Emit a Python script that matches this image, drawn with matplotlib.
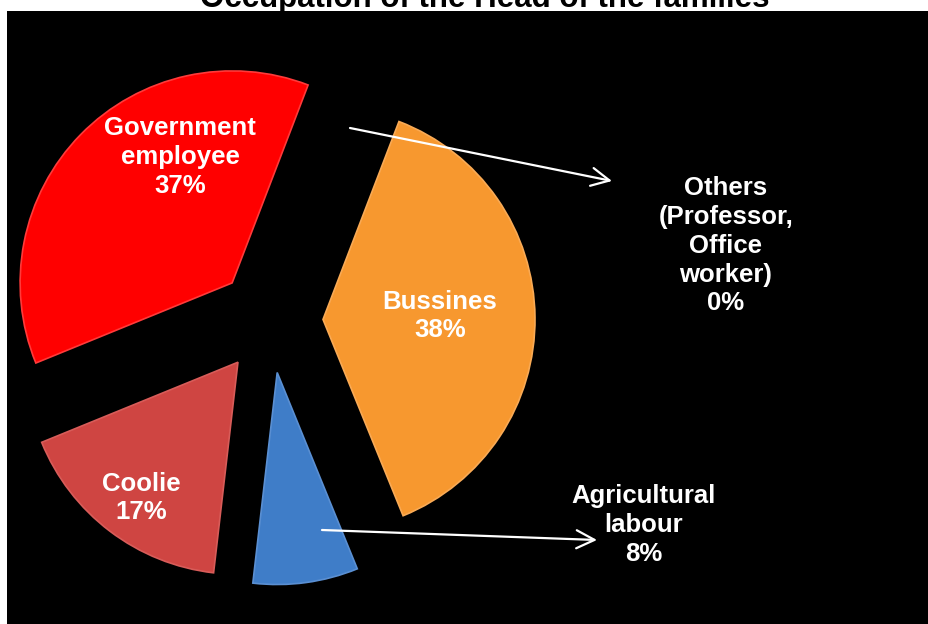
import matplotlib.pyplot as plt
from matplotlib.patches import Rectangle

plt.rcParams['font.family'] = ['Liberation Sans', 'DejaVu Sans']

# Occupation shares (percent), in pie order starting at the top and going clockwise
categories = ['Bussines', 'Agricultural\nlabour', 'Coolie', 'Government\nemployee',
              'Others\n(Professor,\nOffice\nworker)']
shares = [38, 8, 17, 37, 0]
colors = ['#F7982F', '#3F7DC8', '#CF4542', '#FF0000', '#9BBB59']
edges = ['#F9AA55', '#5A8FD2', '#D85C59', '#FF3A3A', '#9BBB59']

W, H = 929, 624
fig = plt.figure(figsize=(W / 100, H / 100), dpi=100)
ax = fig.add_axes([0, 0, 1, 1])

# black plot panel
ax.add_patch(Rectangle((7, 0), W - 7, H - 11, facecolor='black', edgecolor='none', zorder=0))

# explode is in data units here (pixels), radius too
wedges, _ = ax.pie(shares, colors=colors, startangle=69, counterclock=False,
                   center=(270, 304), radius=212, explode=[53] * len(shares),
                   wedgeprops=dict(linewidth=1.2), frame=True)
for w, ec, s in zip(wedges, edges, shares):
    w.set_edgecolor(ec)
    w.set_zorder(2)
    if s == 0:
        w.set_visible(False)
ax.set_xlim(0, W)
ax.set_ylim(0, H)
ax.set_aspect('equal')
ax.axis('off')

lbl = dict(color='white', fontsize=18.5, fontweight='bold', ha='center', va='center',
           linespacing=1.25, zorder=4)
texts = [f'{c}\n{s}%' for c, s in zip(categories, shares)]
ax.text(440, 308, texts[0], **lbl)
ax.text(644, 99, texts[1], **lbl)
ax.text(141, 126, texts[2], **lbl)
ax.text(180, 467, texts[3], **lbl)
ax.text(726, 378, texts[4], **lbl)

arrow = dict(arrowstyle='->,head_length=1.0,head_width=0.5', color='white', lw=1.6,
             mutation_scale=13, shrinkA=0, shrinkB=0)
ax.annotate('', xy=(612, 443), xytext=(350, 496), arrowprops=arrow, zorder=5)
ax.annotate('', xy=(597, 84), xytext=(322, 94), arrowprops=arrow, zorder=5)

fig.text(485 / W, 1 - 7 / H, 'Occupation of the Head of the families', ha='center',
         va='baseline', fontsize=22.5, fontweight='bold', color='black')

fig.savefig('out.png', dpi=100, facecolor='white')
